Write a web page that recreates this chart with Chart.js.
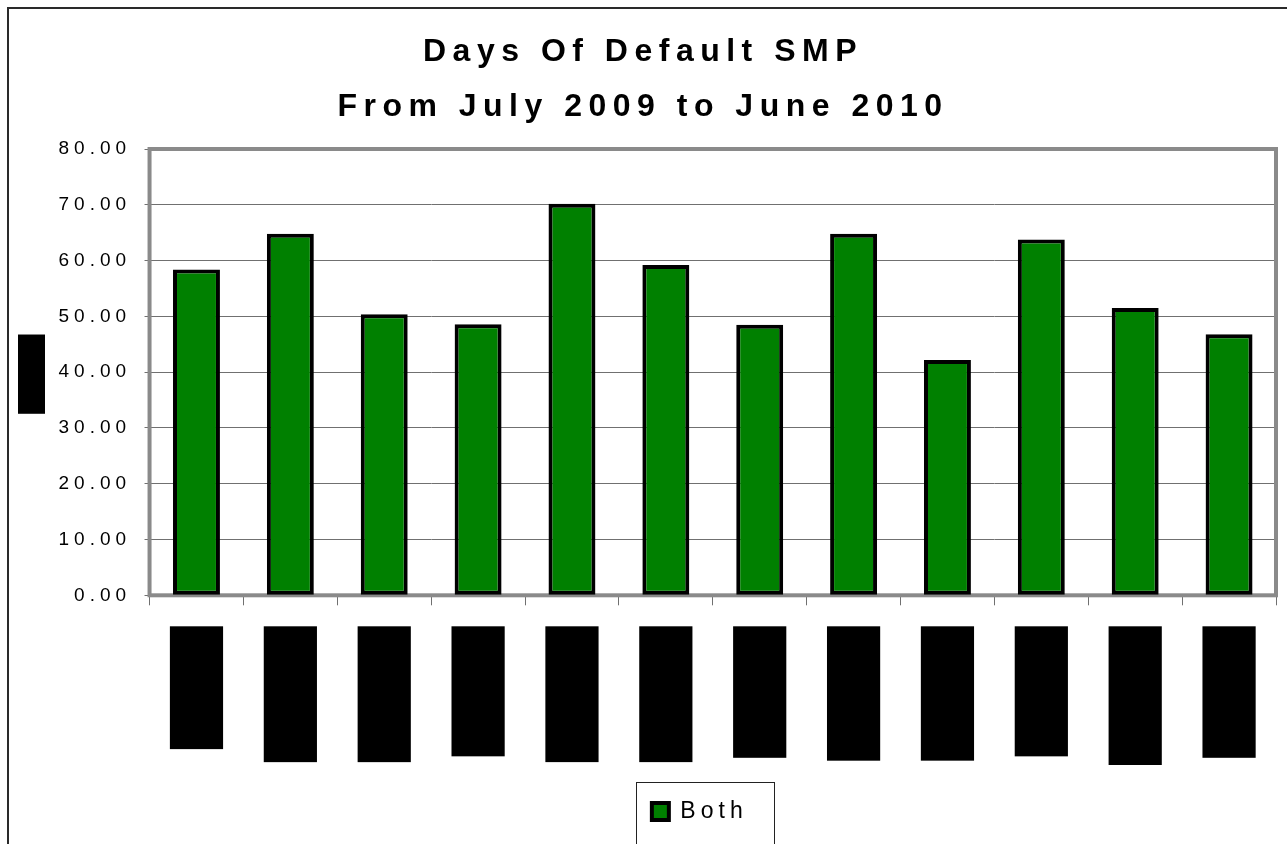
<!DOCTYPE html>
<html lang="en">
<head>
<meta charset="UTF-8">
<title>Days Of Default SMP</title>
<script src="https://cdn.jsdelivr.net/npm/chart.js"></script>
<style>
    body { margin: 0; overflow: hidden; background: #fff; }
    #frame { position: absolute; left: 7px; top: 7px; width: 1400px; height: 1000px; border: 2px solid #2a2a2a; }
    #chart { position: absolute; left: 0; top: 0; }
</style>
</head>
<body>
<div id="frame"></div>
<canvas id="chart" width="1287" height="844"></canvas>
<script>
    // data
    const months = ['Jul-09', 'Aug-09', 'Sep-09', 'Oct-09', 'Nov-09', 'Dec-09',
                    'Jan-10', 'Feb-10', 'Mar-10', 'Apr-10', 'May-10', 'Jun-10'];
    const days = [58.4, 64.8, 50.4, 48.6, 70.2, 59.2, 48.5, 64.8, 42.2, 63.8, 51.5, 46.8];
    const seriesName = 'Both';
    const titleLines = ['Days Of Default SMP', 'From July 2009 to June 2010'];
    const yTitle = 'Days';
    const yMin = 0, yMax = 80, yStep = 10;

    const FONT = "'Liberation Sans', Arial, sans-serif";
    const legendShift = -13;   // legend sits a bit left of the plot centre

    // wide letter spacing like the original, and the legend nudge
    const spacing = {
        id: 'spacing',
        afterInit(chart) {
            const t = chart.titleBlock;
            const drawTitle = t.draw.bind(t);
            t.draw = function () {
                chart.ctx.save();
                chart.ctx.letterSpacing = '6.5px';
                drawTitle();
                chart.ctx.restore();
            };
            const lg = chart.legend;
            const drawLegend = lg.draw.bind(lg);
            lg.draw = function () {
                chart.ctx.save();
                chart.ctx.translate(legendShift, 0);
                drawLegend();
                chart.ctx.restore();
            };
        },
        beforeUpdate(chart) { chart.ctx.letterSpacing = '5px'; },
        beforeDraw(chart) { chart.ctx.letterSpacing = '5px'; }
    };

    // grey plot frame
    const plotFrame = {
        id: 'plotFrame',
        beforeDatasetsDraw(chart) {
            const {ctx, chartArea: a} = chart;
            ctx.save();
            ctx.strokeStyle = '#8a8a8a';
            ctx.lineWidth = 4;
            ctx.strokeRect(a.left, a.top, a.right - a.left, a.bottom - a.top);
            ctx.restore();
        }
    };

    // blacked-out axis title + box round the legend
    const extras = {
        id: 'extras',
        afterDraw(chart) {
            const ctx = chart.ctx;
            const y = chart.scales.y;
            const t = y.options.title;
            const f = Chart.helpers.toFont(t.font);
            const pad = Chart.helpers.toPadding(t.padding);
            ctx.save();
            ctx.font = f.string;
            const w = ctx.measureText(t.text).width;
            const cx = y.left + pad.top + f.lineHeight / 2;
            const cy = (y.top + y.bottom) / 2 + 2;
            ctx.fillStyle = '#000';
            ctx.fillRect(cx - f.lineHeight / 2, cy - w / 2 - 4, f.lineHeight, w + 8);

            const hb = chart.legend.legendHitBoxes[0];
            if (hb) {
                ctx.strokeStyle = '#222';
                ctx.lineWidth = 1;
                ctx.strokeRect(Math.round(hb.left + legendShift - 16) + 0.5, Math.round(hb.top - 18) + 0.5,
                    Math.round(hb.width + 42), chart.height);
            }
            ctx.restore();
        }
    };

    new Chart(document.getElementById('chart'), {
        type: 'bar',
        data: {
            labels: months,
            datasets: [{
                label: seriesName,
                data: days,
                backgroundColor: '#008000',
                borderColor: '#000',
                borderWidth: 4,
                borderSkipped: false,
                barPercentage: 0.5,
                categoryPercentage: 1
            }]
        },
        options: {
            responsive: false,
            animation: false,
            layout: { padding: { top: 0, left: 10, right: 11, bottom: 11 } },
            plugins: {
                tooltip: { enabled: false },
                title: {
                    display: true,
                    text: titleLines,
                    color: '#000',
                    font: { family: FONT, size: 32, weight: 'bold', lineHeight: '55px' },
                    padding: { top: 24.5, bottom: 14.5 }
                },
                legend: {
                    position: 'bottom',
                    fullSize: false,
                    labels: {
                        color: '#000',
                        font: { family: FONT, size: 23 },
                        boxWidth: 17,
                        boxHeight: 17,
                        padding: 28
                    }
                }
            },
            scales: {
                x: {
                    border: { display: false },
                    grid: { drawOnChartArea: false, tickLength: 10, color: '#707070', offset: true },
                    ticks: {
                        autoSkip: false,
                        minRotation: 90,
                        maxRotation: 90,
                        color: '#000',
                        font: { family: FONT, size: 26 },
                        showLabelBackdrop: true,
                        backdropColor: '#000',
                        backdropPadding: { top: 11, bottom: 11, left: 18, right: 4 },
                        padding: 25,
                        labelOffset: -15.6
                    }
                },
                y: {
                    min: yMin,
                    max: yMax,
                    border: { display: false },
                    grid: { color: '#707070', tickLength: 5 },
                    title: {
                        display: true,
                        text: yTitle,
                        color: '#000',
                        font: { family: FONT, size: 22.5 },
                        padding: { top: 8, bottom: 0 }
                    },
                    ticks: {
                        stepSize: yStep,
                        color: '#000',
                        padding: 13.5,
                        font: { family: FONT, size: 19 },
                        callback: v => v.toFixed(2)
                    }
                }
            }
        },
        plugins: [spacing, plotFrame, extras]
    });
</script>
</body>
</html>
